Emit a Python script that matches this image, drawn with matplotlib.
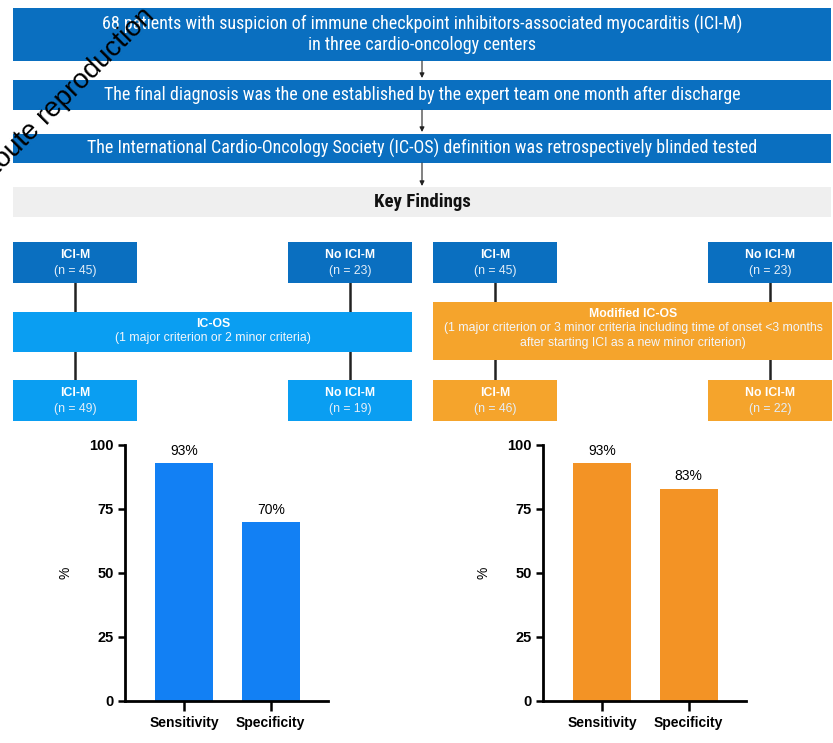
import matplotlib.pyplot as plt
from matplotlib.patches import Rectangle

# textes du diagramme
steps = [
    "68 patients with suspicion of immune checkpoint inhibitors-associated myocarditis (ICI-M)\nin three cardio-oncology centers",
    "The final diagnosis was the one established by the expert team one month after discharge",
    "The International Cardio-Oncology Society (IC-OS) definition was retrospectively blinded tested",
]
groups = ["ICI-M", "No ICI-M"]
ref_counts = [45, 23]
icos_counts = [49, 19]
mod_counts = [46, 22]
icos_title = "IC-OS"
icos_text = "(1 major criterion or 2 minor criteria)"
mod_title = "Modified IC-OS"
mod_text = ("(1 major criterion or 3 minor criteria including time of onset <3 months\n"
            "after starting ICI as a new minor criterion)")

# données des barres
metrics = ["Sensitivity", "Specificity"]
icos_values = [93, 70]
mod_values = [93, 83]

W, H = 833, 743
DARK = "#0a6fc0"
LIGHT = "#0a9ef2"
ORANGE = "#f5a42c"
BAR_BLUE = "#1280f4"
BAR_ORANGE = "#f39325"
NARROW = ["Liberation Sans Narrow", "Roboto Condensed", "Liberation Sans"]
SANS = ["Liberation Sans", "DejaVu Sans"]

fig = plt.figure(figsize=(W / 100, H / 100), dpi=100)
bg = fig.add_axes([0, 0, 1, 1])
bg.set_xlim(0, W)
bg.set_ylim(H, 0)
bg.axis("off")


def box(x0, y0, x1, y1, color):
    bg.add_patch(Rectangle((x0, y0), x1 - x0, y1 - y0, fc=color, ec="none", zorder=1))


def arrow(x, y0, y1):
    bg.annotate("", xy=(x, y1), xytext=(x, y0),
                arrowprops=dict(arrowstyle="-|>", color="#222222", lw=0.8,
                                mutation_scale=7, shrinkA=0, shrinkB=0), zorder=2)


# étapes du haut
step_rows = [(8, 61), (80, 110), (134, 163)]
for txt, (y0, y1) in zip(steps, step_rows):
    box(13, y0, 831, y1, DARK)
    bg.text(422, (y0 + y1) / 2, txt, ha="center", va="center", color="white",
            fontsize=13, family=NARROW, linespacing=1.15, zorder=3)
arrow(422, 61, 78)
arrow(422, 110, 132)
arrow(422, 163, 186)

box(13, 187, 831, 217, "#efefef")
bg.text(422, 202, "Key Findings", ha="center", va="center", fontsize=13.5,
        fontweight="bold", family=NARROW, color="#111111", zorder=3)


def small_box(x0, y0, label, n, color):
    box(x0, y0, x0 + 124, y0 + 41, color)
    bg.text(x0 + 62, y0 + 13, label, ha="center", va="center", color="white",
            fontsize=8.8, fontweight="bold", family=SANS, zorder=3)
    bg.text(x0 + 62, y0 + 29, f"(n = {n})", ha="center", va="center", color="#e4eef8",
            fontsize=8.8, family=SANS, zorder=3)


def flow(x0, color, title, text, counts, mid_top, mid_bot):
    left_c, right_c = x0 + 62, x0 + 337
    for cx in (left_c, right_c):
        bg.plot([cx, cx], [283, mid_top], color="#222222", lw=1.8, zorder=0.5)
        bg.plot([cx, cx], [mid_bot, 380], color="#222222", lw=1.8, zorder=0.5)
    small_box(x0, 242, groups[0], ref_counts[0], DARK)
    small_box(x0 + 275, 242, groups[1], ref_counts[1], DARK)
    box(x0, mid_top, x0 + 399, mid_bot, color)
    bg.text(x0 + 200, mid_top + 12, title, ha="center", va="center", color="white",
            fontsize=8.8, fontweight="bold", family=SANS, zorder=3)
    bg.text(x0 + 200, mid_top + 20, text, ha="center", va="top", color="#f2f6fb",
            fontsize=8.8, family=SANS, linespacing=1.35, zorder=3)
    small_box(x0, 380, groups[0], counts[0], color)
    small_box(x0 + 275, 380, groups[1], counts[1], color)


flow(13, LIGHT, icos_title, icos_text, icos_counts, 312, 352)
flow(433, ORANGE, mod_title, mod_text, mod_counts, 302, 360)


def bars(xpix, values, color):
    ax = fig.add_axes([xpix / W, (H - 701) / H, 203 / W, 256 / H])
    ax.bar(range(len(metrics)), values, width=0.674, color=color)
    for i, v in enumerate(values):
        ax.text(i, v + 4.7, f"{v}%", ha="center", va="center", fontsize=10, family=SANS)
    ax.set_xlim(-0.686, 1.663)
    ax.set_ylim(0, 100)
    ax.set_yticks([0, 25, 50, 75, 100])
    ax.set_xticks(range(len(metrics)))
    ax.set_xticklabels(metrics, fontweight="bold", family=SANS, fontsize=10)
    for lab in ax.get_yticklabels():
        lab.set_fontweight("bold")
        lab.set_family(SANS)
        lab.set_fontsize(10.5)
    ax.tick_params(axis="y", width=1.8, length=5, pad=3)
    ax.tick_params(axis="x", width=1.8, length=7, pad=4)
    for s in ("top", "right"):
        ax.spines[s].set_visible(False)
    for s in ("left", "bottom"):
        ax.spines[s].set_linewidth(2)
    ax.set_ylabel("%", fontsize=10, family=SANS)
    ax.yaxis.set_label_coords(-0.26, 0.5)
    ax.patch.set_alpha(0)
    return ax


bars(125, icos_values, BAR_BLUE)
bars(543, mod_values, BAR_ORANGE)

# filigrane
bg.text(-2, 175, "toute reproduction", rotation=45, rotation_mode="anchor",
        ha="left", va="baseline", fontsize=20, family=SANS, color="black", zorder=5)

fig.savefig("out.png", dpi=100)
